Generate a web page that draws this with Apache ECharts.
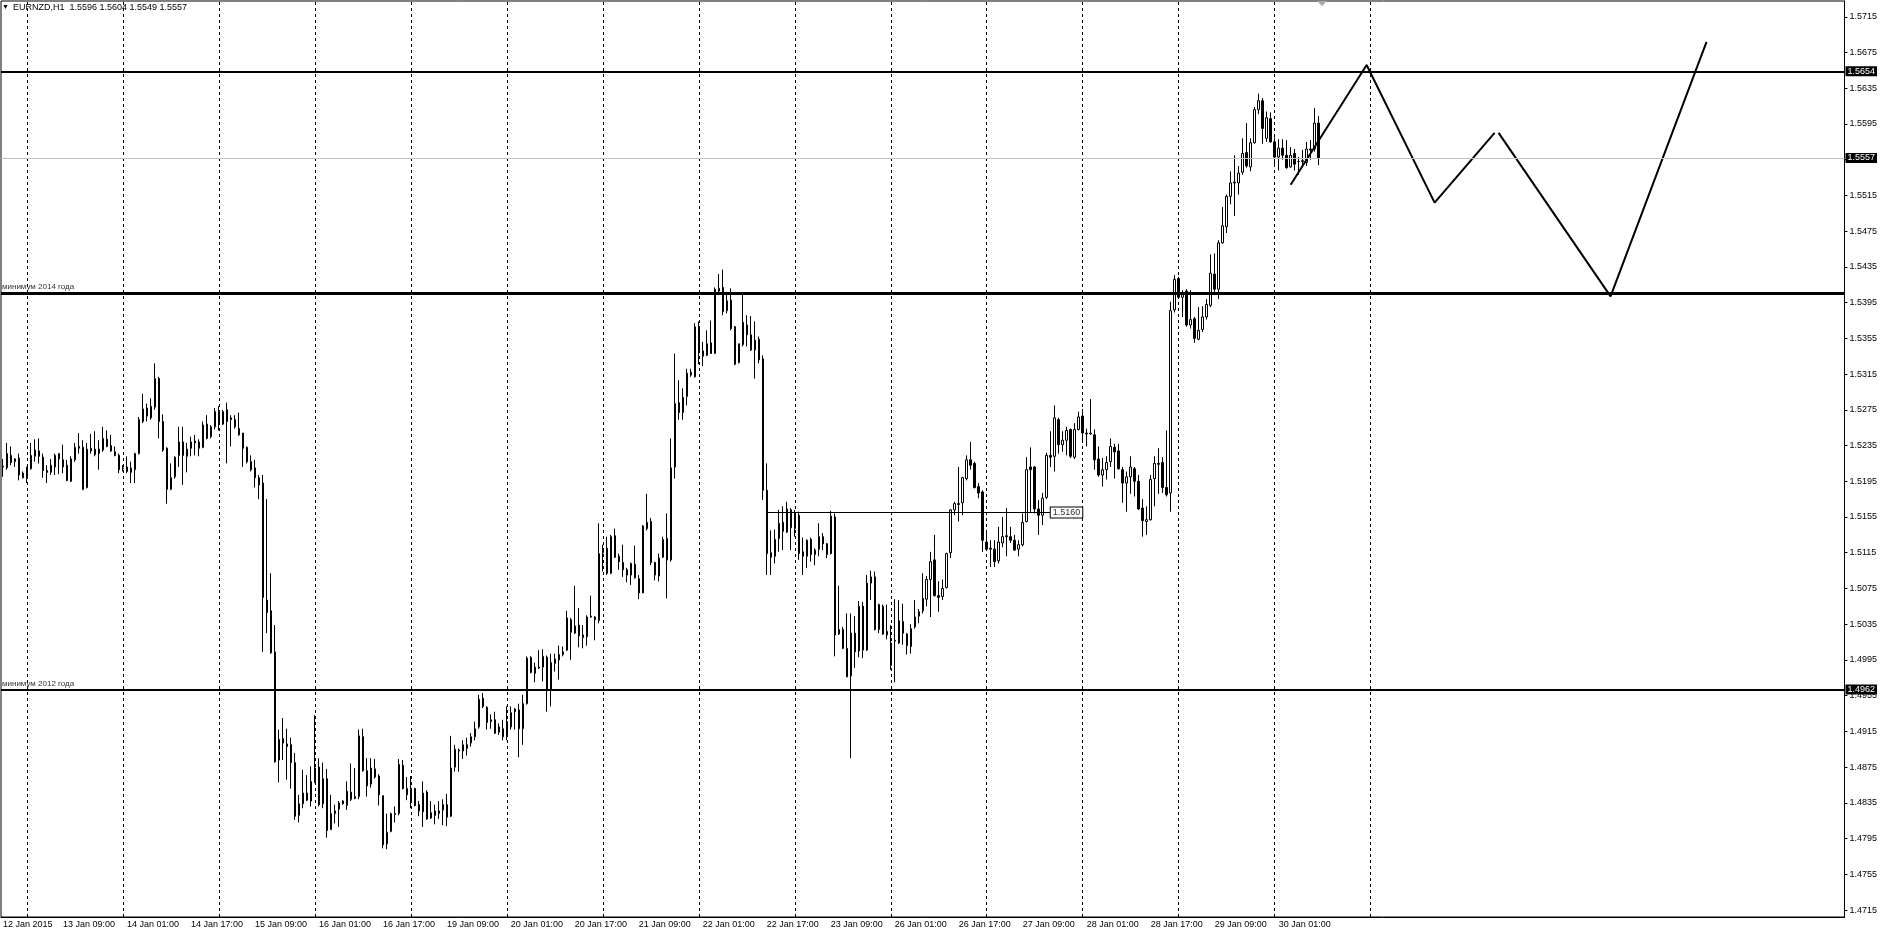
<!DOCTYPE html>
<html><head><meta charset="utf-8">
<script src="https://cdn.jsdelivr.net/npm/echarts@6/dist/echarts.min.js"></script>
<style>html,body{margin:0;padding:0;background:#fff}#c{width:1885px;height:931px}</style>
</head><body><div id="c"></div><script>
// ---- Data (prices in 0.0001 units: [open, close, low, high]) ----
const days = ['12 Jan','13 Jan','14 Jan','15 Jan','16 Jan','19 Jan','20 Jan','21 Jan','22 Jan','23 Jan','26 Jan','27 Jan','28 Jan','29 Jan','30 Jan'];
const firstHour = 18; // first bar: 12 Jan 18:00
const jan12 = [[15211,15212,15200,15220],[15210,15226,15208,15238],[15224,15216,15213,15234],[15217,15220,15211,15221],[15221,15202,15196,15226],[15204,15199,15198,15206]];
const jan13 = [[15198,15211,15193,15211],[15209,15224,15208,15238],[15223,15230,15217,15242],[15229,15223,15215,15243],[15222,15207,15199,15226],[15207,15205,15193,15213],[15205,15213,15202,15220],[15211,15224,15202,15226],[15226,15220,15203,15226],[15219,15211,15204,15236],[15213,15196,15195,15219],[15195,15220,15194,15223],[15219,15233,15217,15238],[15232,15234,15226,15249],[15233,15186,15185,15241],[15188,15231,15187,15238],[15229,15232,15226,15248],[15231,15225,15223,15251],[15226,15231,15208,15241],[15230,15243,15228,15256],[15242,15234,15233,15252],[15235,15229,15228,15247],[15228,15224,15223,15234],[15224,15208,15204,15226]];
const jan14 = [[15209,15210,15206,15213],[15211,15206,15204,15223],[15205,15210,15193,15217],[15208,15226,15193,15227],[15226,15264,15225,15267],[15262,15276,15260,15293],[15277,15268,15262,15282],[15266,15279,15264,15288],[15278,15310,15275,15327],[15310,15262,15243,15312],[15262,15230,15228,15270],[15232,15186,15170,15233],[15186,15199,15185,15215],[15200,15222,15198,15223],[15224,15239,15211,15256],[15239,15224,15191,15256],[15223,15231,15205,15238],[15232,15239,15223,15245],[15240,15238,15224,15247],[15239,15232,15223,15242],[15233,15258,15232,15262],[15259,15243,15242,15269],[15245,15256,15243,15258],[15256,15273,15253,15277]];
const jan15 = [[15273,15260,15252,15279],[15259,15273,15258,15275],[15275,15262,15215,15283],[15264,15266,15234,15269],[15264,15256,15254,15269],[15254,15247,15246,15272],[15249,15232,15211,15249],[15233,15217,15215,15234],[15217,15208,15206,15224],[15210,15199,15188,15219],[15199,15191,15175,15202],[15193,15065,15004,15202],[15062,15048,15025,15175],[15050,15003,15002,15092],[15004,14881,14880,15034],[14883,14906,14858,14917],[14907,14902,14883,14930],[14901,14898,14861,14918],[14900,14880,14851,14908],[14880,14820,14816,14891],[14821,14834,14813,14844],[14834,14846,14829,14872],[14846,14838,14837,14866],[14837,14859,14831,14876]];
const jan16 = [[14858,14874,14857,14933],[14875,14833,14831,14885],[14834,14862,14829,14880],[14862,14804,14796,14873],[14805,14823,14805,14844],[14823,14826,14812,14833],[14828,14835,14808,14837],[14837,14834,14833,14838],[14832,14848,14827,14859],[14847,14839,14837,14879],[14842,14840,14839,14874],[14842,14910,14839,14917],[14909,14871,14870,14918],[14871,14854,14842,14885],[14856,14874,14852,14885],[14873,14864,14862,14884],[14865,14844,14832,14867],[14843,14788,14784,14843],[14789,14802,14783,14823],[14803,14823,14802,14824],[14823,14822,14813,14831],[14823,14878,14821,14884],[14877,14851,14850,14883],[14851,14844,14838,14864]];
const jan19 = [[14838,14850,14829,14865],[14851,14832,14831,14852],[14833,14826,14820,14837],[14825,14846,14808,14859],[14847,14817,14816,14849],[14818,14824,14817,14837],[14826,14821,14811,14833],[14823,14826,14817,14837],[14827,14833,14810,14839],[14833,14819,14809,14845],[14820,14874,14819,14910],[14875,14895,14870,14900],[14894,14893,14870,14896],[14893,14900,14884,14905],[14900,14896,14888,14908],[14902,14909,14898,14913],[14909,14918,14905,14926],[14920,14951,14918,14956],[14952,14943,14941,14958],[14942,14925,14917,14943],[14926,14928,14918,14934],[14928,14913,14912,14937],[14914,14920,14911,14924],[14918,14909,14905,14928]];
const jan20 = [[14909,14926,14905,14943],[14920,14936,14917,14943],[14937,14940,14917,14941],[14939,14918,14886,14946],[14918,14946,14900,14956],[14946,14997,14945,14999],[14998,14981,14980,14999],[14980,14987,14970,14992],[14987,14986,14985,15006],[14987,14999,14971,15007],[14998,14961,14937,15000],[14961,14992,14943,15002],[14991,14996,14982,15002],[14995,15001,14973,15011],[15001,15004,14999,15010],[15006,15042,15005,15050],[15040,15026,14995,15042],[15025,15033,15024,15078],[15034,15022,15009,15053],[15020,15023,15008,15034],[15021,15043,15011,15045],[15044,15043,15042,15067],[15043,15040,15017,15044],[15039,15114,15036,15148]];
const jan21 = [[15115,15119,15094,15124],[15120,15092,15090,15133],[15092,15133,15091,15135],[15134,15110,15109,15142],[15111,15105,15096,15114],[15104,15096,15088,15124],[15096,15090,15082,15098],[15090,15103,15079,15104],[15102,15087,15086,15123],[15086,15070,15063,15090],[15070,15145,15070,15146],[15142,15149,15140,15181],[15150,15104,15101,15154],[15104,15090,15084,15105],[15089,15109,15083,15114],[15110,15130,15109,15133],[15131,15107,15064,15159],[15107,15210,15105,15243],[15211,15282,15198,15338],[15283,15272,15264,15308],[15272,15289,15264,15299],[15290,15316,15280,15321],[15317,15314,15312,15321],[15312,15368,15311,15372]];
const jan22 = [[15368,15341,15326,15374],[15341,15335,15324,15351],[15336,15349,15335,15364],[15350,15338,15338,15375],[15338,15410,15338,15412],[15408,15411,15405,15427],[15412,15385,15381,15432],[15386,15397,15383,15407],[15398,15366,15364,15411],[15368,15326,15325,15369],[15328,15349,15327,15349],[15348,15373,15346,15405],[15370,15359,15346,15381],[15359,15342,15341,15380],[15342,15353,15310,15374],[15354,15331,15327,15357],[15332,15185,15174,15336],[15185,15114,15090,15215],[15115,15110,15090,15140],[15111,15130,15103,15141],[15131,15148,15116,15163],[15149,15139,15118,15167],[15138,15164,15137,15172],[15163,15143,15118,15165]];
const jan23 = [[15142,15159,15133,15163],[15157,15114,15107,15161],[15116,15111,15090,15132],[15111,15129,15098,15130],[15130,15113,15105,15132],[15113,15118,15101,15120],[15119,15133,15111,15148],[15133,15125,15118,15137],[15125,15113,15109,15126],[15114,15156,15113,15162],[15155,15023,14999,15159],[15024,15029,15023,15078],[15029,15008,15007,15032],[15008,14976,14976,15047],[14977,15025,14885,15047],[15025,15004,14986,15044],[15005,15055,14998,15061],[15055,15006,14997,15060],[15006,15081,15005,15090],[15081,15088,15062,15095],[15088,15029,15028,15094],[15029,15057,15025,15058],[15055,15024,15023,15057],[15023,15027,15018,15057]];
const jan26 = [[14989,15014,14984,15034],[15016,15017,14970,15063],[15014,15039,15013,15062],[15038,15025,15012,15058],[15024,15011,15001,15025],[15010,15030,15002,15035],[15032,15043,15030,15062],[15044,15049,15036,15052],[15050,15064,15047,15092],[15063,15085,15055,15089],[15085,15105,15043,15116],[15107,15067,15066,15135],[15067,15065,15049,15083],[15066,15075,15062,15085],[15076,15114,15075,15115],[15115,15163,15109,15164],[15163,15170,15157,15172],[15170,15169,15150,15211],[15171,15199,15157,15200],[15198,15219,15196,15224],[15219,15213,15208,15239],[15215,15188,15187,15217],[15189,15182,15176,15193],[15183,15129,15116,15185]];
const jan27 = [[15127,15119,15118,15139],[15120,15119,15099,15129],[15119,15105,15099,15129],[15106,15127,15103,15144],[15126,15133,15121,15155],[15133,15134,15111,15165],[15133,15129,15126,15144],[15129,15118,15117,15135],[15119,15124,15111,15129],[15124,15149,15122,15159],[15150,15208,15149,15222],[15211,15208,15161,15233],[15211,15164,15159,15212],[15164,15157,15135,15174],[15157,15176,15146,15182],[15177,15224,15175,15227],[15224,15222,15211,15251],[15223,15266,15206,15280],[15264,15236,15226,15266],[15236,15241,15228,15251],[15241,15252,15224,15256],[15253,15223,15221,15254],[15222,15253,15220,15260],[15253,15267,15252,15273]];
const jan28 = [[15268,15249,15239,15276],[15248,15249,15234,15254],[15248,15249,15247,15287],[15247,15219,15208,15253],[15220,15202,15200,15234],[15202,15208,15189,15221],[15208,15216,15197,15223],[15217,15234,15211,15243],[15233,15228,15198,15237],[15229,15209,15208,15237],[15208,15193,15171,15211],[15193,15200,15161,15206],[15200,15211,15181,15223],[15209,15195,15178,15211],[15195,15164,15163,15202],[15165,15151,15133,15175],[15150,15152,15135,15167],[15152,15197,15151,15202],[15198,15215,15167,15223],[15215,15214,15181,15232],[15216,15188,15182,15222],[15188,15180,15178,15252],[15182,15386,15161,15396],[15387,15421,15384,15426]];
const jan29 = [[15422,15401,15399,15424],[15401,15404,15379,15409],[15408,15370,15368,15410],[15370,15376,15366,15409],[15377,15355,15350,15379],[15354,15364,15353,15390],[15365,15379,15362,15391],[15379,15393,15376,15399],[15392,15428,15390,15449],[15427,15410,15404,15450],[15410,15462,15399,15465],[15462,15481,15461,15502],[15480,15514,15473,15516],[15514,15529,15505,15542],[15529,15530,15492,15560],[15529,15540,15516,15548],[15541,15562,15538,15579],[15563,15548,15546,15596],[15547,15574,15542,15579],[15574,15611,15573,15614],[15611,15621,15606,15629],[15621,15590,15573,15624],[15579,15602,15575,15609],[15601,15575,15574,15608]];
const jan30 = [[15575,15558,15550,15580],[15558,15568,15543,15578],[15568,15560,15555,15578],[15560,15546,15545,15577],[15547,15560,15546,15569],[15562,15550,15543,15567],[15553,15553,15538,15558],[15553,15554,15548,15566],[15552,15567,15548,15575],[15567,15566,15555,15577],[15567,15596,15564,15613],[15596,15557,15549,15604]];
const candleDays = [jan12,jan13,jan14,jan15,jan16,jan19,jan20,jan21,jan22,jan23,jan26,jan27,jan28,jan29,jan30];

const priceTicks = [1.4715,1.4755,1.4795,1.4835,1.4875,1.4915,1.4955,1.4995,1.5035,1.5075,1.5115,1.5155,1.5195,1.5235,1.5275,1.5315,1.5355,1.5395,1.5435,1.5475,1.5515,1.5555,1.5595,1.5635,1.5675,1.5715];
const dayStartBars = [6,30,54,78,102,126,150,174,198,222,246,270,294,318,342];
const levelHigh = 1.5654, levelBid = 1.5557, level2014 = 1.5405, level2012 = 1.4962, level1516 = 1.5160;
const level1516Bars = [191, 262];
const zigzagA = [[322,1.5527],[341,1.5661],[358,1.5507],[373,1.5585]];
const zigzagB = [[374,1.5585],[402,1.5402],[426,1.5687]];
const headerText = 'EURNZD,H1  1.5596 1.5604 1.5549 1.5557';
const totalSlots = 461;

// ---- Build ----
const candles = [];
candleDays.forEach(d => d.forEach(r => candles.push(r.map(v => v / 10000))));
const categories = [];
for (let i = 0; i < totalSlots; i++) {
  if (i < candles.length) {
    const h = i + firstHour;
    const hh = h % 24;
    categories.push(days[Math.floor(h / 24)] + ' ' + (hh < 10 ? '0' + hh : hh) + ':00');
  } else categories.push('');
}
const showLabel = (idx) => idx === 0 || (idx >= 15 && (idx - 15) % 16 === 0 && idx < candles.length);
const FONT = 'Liberation Sans, Arial, sans-serif';
const boxLabel = (txt) => ({show: true, position: 'end', distance: 1, formatter: txt, backgroundColor: '#000', color: '#fff', fontFamily: FONT, fontSize: 9, padding: [1, 2, 0, 2], lineHeight: 9});

const chart = echarts.init(document.getElementById('c'), null, {renderer: 'canvas', width: 1885, height: 931});
chart.setOption({
  animation: false,
  backgroundColor: '#fff',
  grid: {left: 0.5, top: 1, width: 4 * totalSlots, bottom: 14, show: true, borderColor: '#000', borderWidth: 1, backgroundColor: 'transparent'},
  xAxis: {
    type: 'category', data: categories, boundaryGap: true,
    axisLine: {lineStyle: {color: '#000', width: 1}},
    axisTick: {alignWithLabel: true, interval: (i) => showLabel(i) && i !== 0, length: 4, lineStyle: {color: '#000'}},
    axisLabel: {interval: (i) => showLabel(i), formatter: (v, i) => i === 0 ? '12 Jan 2015' : v, align: 'left', margin: 3, color: '#000', fontFamily: FONT, fontSize: 9},
    splitLine: {show: false}
  },
  yAxis: {
    type: 'value', position: 'right', scale: true, min: 1.47072, max: 1.57327,
    axisLine: {show: true, lineStyle: {color: '#000', width: 1}},
    axisTick: {show: true, length: 3, customValues: priceTicks, lineStyle: {color: '#000'}},
    axisLabel: {customValues: priceTicks, formatter: (v) => v.toFixed(4), margin: 5, color: '#000', fontFamily: FONT, fontSize: 9},
    splitLine: {show: false}
  },
  graphic: [
    {type: 'text', left: 2, top: 4, style: {text: '▼', fontSize: 7, fill: '#000', fontFamily: FONT}},
    {type: 'text', left: 13, top: 3, style: {text: headerText, fontSize: 9, fill: '#000', fontFamily: FONT}},
    {type: 'polygon', shape: {points: [[1317, 1], [1327, 1], [1322, 6]]}, style: {fill: '#a8a8a8'}}
  ],
  series: [
    { // day separators
      type: 'line', data: [], z: 1, silent: true,
      markLine: {silent: true, symbol: ['none', 'none'], label: {show: false},
        lineStyle: {color: '#000', width: 1, type: [3, 3]},
        data: dayStartBars.map(i => ({xAxis: i}))}
    },
    { // horizontal levels
      type: 'line', data: [], z: 1, silent: true,
      markLine: {silent: true, symbol: ['none', 'none'], precision: 4,
        data: [
          {yAxis: levelBid, lineStyle: {color: '#c0c0c0', width: 1, type: 'solid'}, label: boxLabel(levelBid.toFixed(4))},
          {yAxis: levelHigh, lineStyle: {color: '#000', width: 2, type: 'solid'}, label: boxLabel(levelHigh.toFixed(4))},
          {yAxis: level2012, lineStyle: {color: '#000', width: 2, type: 'solid'}, label: boxLabel(level2012.toFixed(4))},
          {yAxis: level2012, lineStyle: {color: '#000', width: 2, type: 'solid'}, label: {show: true, position: 'insideStartTop', distance: [1, 2], formatter: 'минимум 2012 года', color: '#333', fontFamily: FONT, fontSize: 8}},
          {yAxis: level2014, lineStyle: {color: '#000', width: 3, type: 'solid'}, label: {show: true, position: 'insideStartTop', distance: [1, 3], formatter: 'минимум 2014 года', color: '#333', fontFamily: FONT, fontSize: 8}},
          [
            {coord: [level1516Bars[0], level1516], lineStyle: {color: '#000', width: 1, type: 'solid'}, label: {show: true, position: 'end', distance: 0, formatter: level1516.toFixed(4), backgroundColor: '#fff', borderColor: '#000', borderWidth: 1, color: '#333', fontFamily: FONT, fontSize: 9, padding: [1, 2, 0, 2], lineHeight: 9}},
            {coord: [level1516Bars[1], level1516]}
          ]
        ]}
    },
    {
      type: 'candlestick', data: candles, z: 2, barWidth: 2,
      itemStyle: {color: '#fff', color0: '#000', borderColor: '#000', borderColor0: '#000', borderWidth: 1}
    },
    {type: 'line', data: zigzagA, z: 3, symbol: 'none', silent: true, lineStyle: {color: '#000', width: 2}},
    {type: 'line', data: zigzagB, z: 3, symbol: 'none', silent: true, lineStyle: {color: '#000', width: 2}}
  ]
});
</script></body></html>
